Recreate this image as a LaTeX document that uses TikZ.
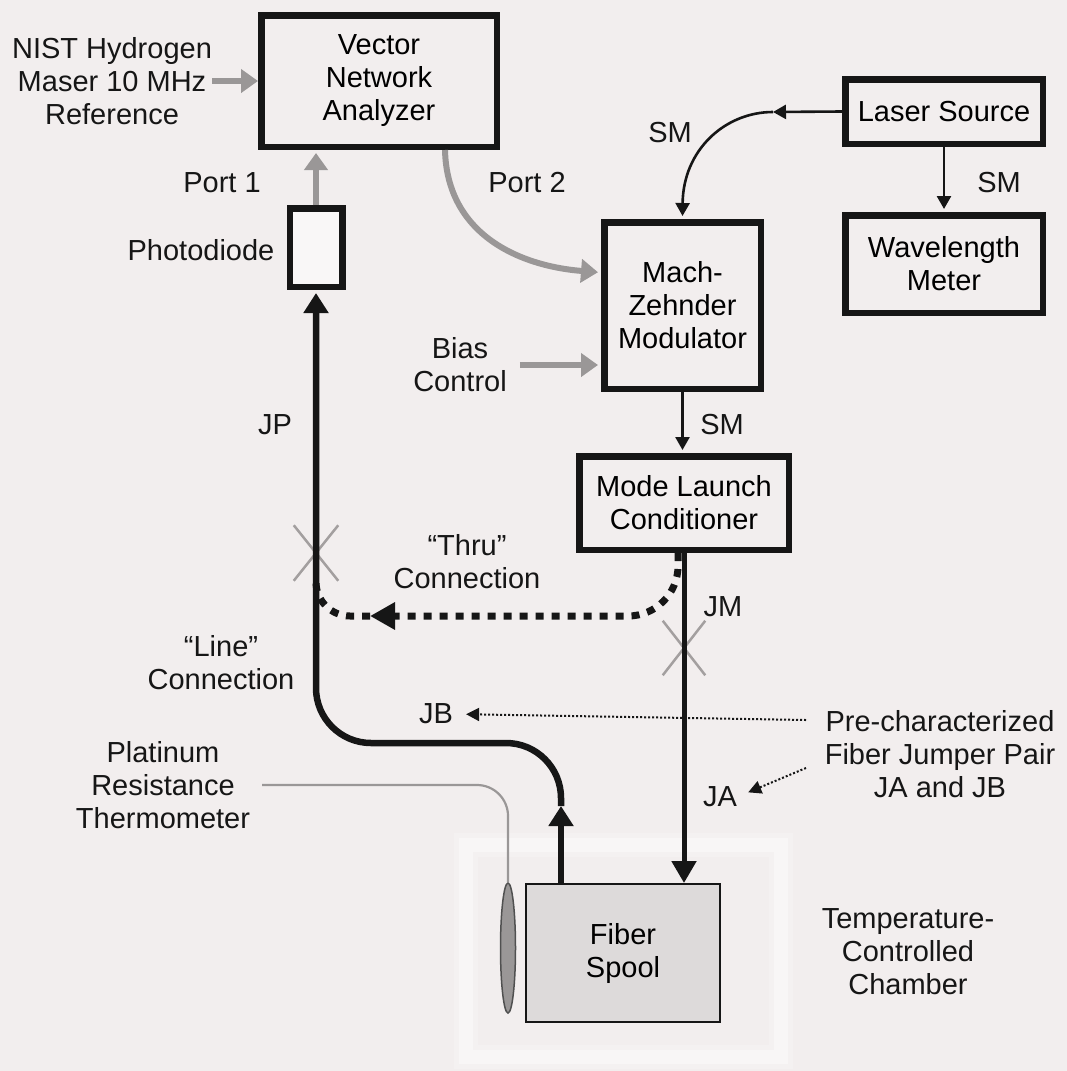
\documentclass[tikz,border=0pt]{standalone}
\usepackage{fontspec}
\setmainfont{Liberation Sans}
\usepackage{tikz}
\usetikzlibrary{arrows.meta,shapes.misc,shapes.geometric}
\definecolor{paperbg}{HTML}{F2EEEE}
\definecolor{spoolgray}{HTML}{DDDADA}
\definecolor{rfgray}{HTML}{9A9797}
\definecolor{crossgray}{HTML}{A39F9F}
\definecolor{inkblack}{HTML}{161616}
\tikzset{
  box/.style={
    draw=inkblack,
    line width=6.5pt,
    fill=paperbg,
    align=center,
    inner sep=0pt
  },
  txt/.style={align=center, inner sep=0pt, text=inkblack},
  smline/.style={draw=inkblack, line width=2.6pt, -{Triangle[length=13pt,width=14pt]}},
  rfline/.style={draw=rfgray, line width=6pt, -{Triangle[length=17pt,width=23pt]}},
  fiber/.style={draw=inkblack, line width=6.5pt, -{Triangle[length=20pt,width=24pt]}},
  jmfiber/.style={draw=inkblack, line width=5pt, -{Triangle[length=22pt,width=24pt]}},
  thruline/.style={draw=inkblack, line width=7pt, dash pattern=on 8pt off 8pt},
  pointer/.style={draw=inkblack, line width=2pt, dash pattern=on 2pt off 2pt, -{Triangle[length=13pt,width=13pt]}},
  xmark/.style={cross out, draw=crossgray, line width=2.5pt, inner sep=0pt},
  sensor/.style={ellipse, draw=inkblack!75, fill=rfgray, line width=1.5pt, inner sep=0pt},
  chamberbox/.style={draw=white, line width=14pt, opacity=0.4, inner sep=0pt}
}

\begin{document}
\begin{tikzpicture}[x=1pt,y=-1pt,font=\fontsize{29}{33}\selectfont]
  \useasboundingbox (0,0) rectangle (1067,1071);
  \fill[paperbg] (0,0) rectangle (1067,1071);

  \node[chamberbox, line width=24pt, opacity=0.2, minimum width=315pt, minimum height=212pt] (chamberglow) at (623.5,951) {};
  \node[chamberbox, minimum width=315pt, minimum height=212pt] (chamber) at (623.5,951) {};

  \node[box, minimum width=235.5pt, minimum height=131.5pt] (vna) at (379,81)
    {Vector\\Network\\Analyzer};
  \node[box, fill=white!55!paperbg, minimum width=52.5pt, minimum height=78.5pt] (pd) at (316,247.5) {};
  \node[box, minimum width=197.5pt, minimum height=64.5pt] (laser) at (944,111.5)
    {Laser Source};
  \node[box, minimum width=197.5pt, minimum height=97.5pt] (wm) at (944,264)
    {Wavelength\\Meter};
  \node[box, minimum width=156.5pt, minimum height=166.5pt] (mzm) at (682.5,305.5)
    {Mach-\\Zehnder\\Modulator};
  \node[box, minimum width=209.5pt, minimum height=93.5pt] (mlc) at (684,503)
    {Mode Launch\\Conditioner};
  \node[box, fill=spoolgray, line width=2pt, minimum width=194pt, minimum height=138pt] (spool) at (623,953)
    {Fiber\\Spool};
  \node[sensor, minimum width=15pt, minimum height=130pt] (prt) at (508,948) {};

  \node[txt] (nisttxt) at (112,81) {NIST Hydrogen\\Maser 10 MHz\\Reference};
  \node[txt] (porta) at (222,183) {Port 1};
  \node[txt] (pdtxt) at (201,250) {Photodiode};
  \node[txt] (portb) at (527,183) {Port 2};
  \node[txt] (smtop) at (670,133) {SM};
  \node[txt] (smwm) at (999,183) {SM};
  \node[txt] (biastxt) at (460,365) {Bias\\Control};
  \node[txt] (smmlc) at (722,425) {SM};
  \node[txt] (jptxt) at (275,425) {JP};
  \node[txt] (thrutxt) at (467,562) {“Thru”\\Connection};
  \node[txt] (jmtxt) at (723,607) {JM};
  \node[txt] (linetxt) at (221,663) {“Line”\\Connection};
  \node[txt] (jbtxt) at (436,714) {JB};
  \node[txt] (pretxt) at (940,754) {Pre-characterized\\Fiber Jumper Pair\\JA and JB};
  \node[txt] (jatxt) at (720,797) {JA};
  \node[txt] (prttxt) at (163,785) {Platinum\\Resistance\\Thermometer};
  \node[txt] (chambertxt) at (908,952) {Temperature-\\Controlled\\Chamber};

  \node[xmark, minimum width=42pt, minimum height=53pt] (xjp) at (316,553) {};
  \node[xmark, minimum width=40pt, minimum height=52pt] (xjm) at (684,648) {};

  \coordinate (smbend) at (773,112);
  \coordinate (jpmid) at (561,806);
  \coordinate (jpbend) at (316,743);
  \coordinate (thruend) at (370,616);
  \coordinate (prejb) at (806,720);
  \coordinate (preja) at (806,768);

  \draw[rfline] (nisttxt.east) -- (vna.west);
  \draw[rfline, shorten >=3pt] (pd.north) -- (pd.north |- vna.south);
  \draw[rfline, shorten >=3pt] ([xshift=66pt]vna.south) .. controls (447,235) and (520,266) .. ([yshift=33pt]mzm.west);
  \draw[rfline, shorten <=13pt, shorten >=3pt] (biastxt.east) -- (biastxt.east -| mzm.west);

  \draw[smline] (laser.west) -- (smbend);
  \draw[smline, shorten >=3pt] (smbend) .. controls (725,112) and (683,150) .. (mzm.north);
  \draw[smline, shorten >=3pt] (laser.south) -- (wm.north);
  \draw[smline, shorten >=3pt] (mzm.south) -- (mzm.south |- mlc.north);

  \draw[fiber] ([xshift=-62pt]spool.north) -- (jpmid);
  \draw[fiber, rounded corners=55pt, shorten >=3pt] (jpmid) |- (jpbend) -- (pd.south);
  \draw[jmfiber] (mlc.south) -- (mlc.south |- spool.north);

  \draw[thruline, rounded corners=50pt, -{Triangle[length=25pt,width=26pt]}] ([xshift=-6pt]mlc.south) |- (thruend);
  \draw[thruline, rounded corners=34pt] (thruend) -| (xjp.south);

  \draw[pointer, shorten >=13pt] (prejb) -- (jbtxt.east);
  \draw[pointer, shorten >=12pt] (preja) -- (jatxt.east);

  \draw[draw=rfgray, line width=2.2pt, rounded corners=31pt, shorten <=12pt] (prttxt.east) -| (prt.north);
\end{tikzpicture}
\end{document}
